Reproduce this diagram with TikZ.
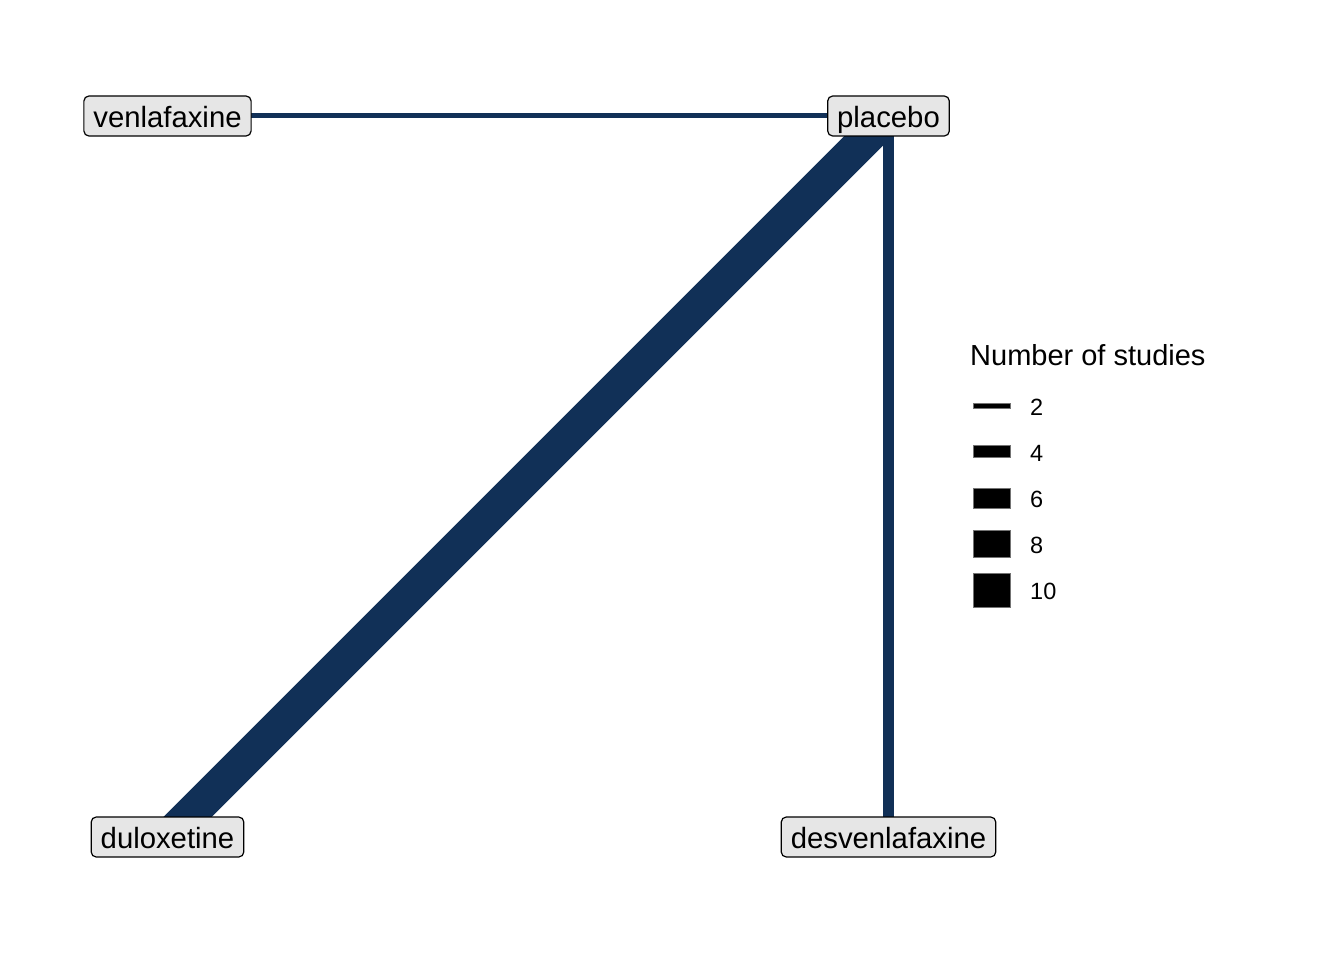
\documentclass[tikz,border=0pt]{standalone}
\usepackage{fontspec}
\setmainfont{Liberation Sans}
\definecolor{edgecol}{RGB}{17,48,87}
\definecolor{boxfill}{RGB}{230,230,230}
\begin{document}
\begin{tikzpicture}[x=1pt,y=-1pt,
  trt/.style={draw=black,line width=1.2pt,fill=boxfill,rounded corners=5pt,
    font=\fontsize{29.3}{29.3}\selectfont,text height=23pt,text depth=0pt,
    inner xsep=9.5pt,inner ysep=8.5pt,minimum height=40pt},
  edge/.style={draw=edgecol,line cap=butt},
  key/.style={fill=black,draw=black!55,line width=0.6pt},
  keylab/.style={font=\fontsize{23.5}{23.5}\selectfont,anchor=base west,inner sep=0pt}]
\useasboundingbox (0,0) rectangle (1344,960);
% node positions
\coordinate (cV) at (167.5,116);
\coordinate (cP) at (888.5,116);
\coordinate (cD) at (167.5,837);
\coordinate (cDV) at (888.5,837);
% edges
\draw[edge,line width=5pt] (cV) -- (cP);
\draw[edge,line width=34pt] (cP) -- (cD);
\draw[edge,line width=11.5pt] (cP) -- (cDV);
% nodes
\node[trt] (ven) at (cV) {venlafaxine};
\node[trt] (pla) at (cP) {placebo};
\node[trt] (dul) at (cD) {duloxetine};
\node[trt] (des) at (cDV) {desvenlafaxine};
% legend
\node[font=\fontsize{29}{29}\selectfont,anchor=base west,inner sep=0pt] (ltitle) at (970,365) {Number of studies};
\path[key] (973,403) rectangle (1010,408.5);
\path[key] (973,445.5) rectangle (1010,457.5);
\path[key] (973,488) rectangle (1010,508);
\path[key] (973,530.5) rectangle (1010,557);
\path[key] (973,573) rectangle (1010,607);
\node[keylab] (l2) at (1030,415) {2};
\node[keylab] (l4) at (1030,461) {4};
\node[keylab] (l6) at (1030,507.5) {6};
\node[keylab] (l8) at (1030,553.5) {8};
\node[keylab] (l10) at (1030,599.5) {10};
\end{tikzpicture}
\end{document}
